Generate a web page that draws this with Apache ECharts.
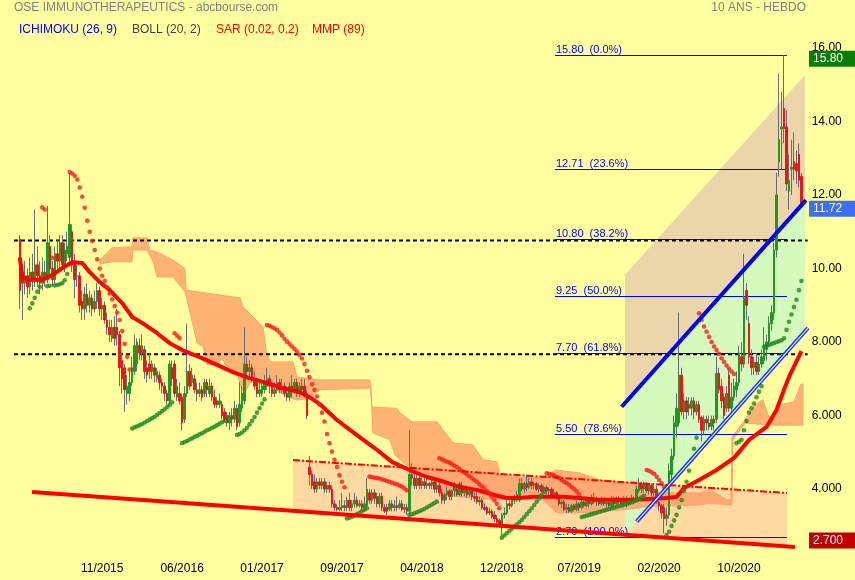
<!DOCTYPE html>
<html><head><meta charset="utf-8">
<script src="https://cdn.jsdelivr.net/npm/echarts@6/dist/echarts.min.js"></script>
<style>html,body{margin:0;padding:0;background:#FFFFA0;}#c{width:855px;height:580px;}</style>
</head><body><div id="c"></div>
<script>
// ---------- DATA ----------
const firstWeek = '2015-03-16';
const extraSlots = 2;
// weekly candles: [open, close, low, high]
const candles = [
[10.8,9.4,8.9,10.9],[9.9,9.6,8.6,10.1],[9.6,9.8,9.3,10.2],[9.8,9.5,9.2,10.0],[9.5,9.9,9.3,10.3],
[9.9,9.7,9.4,10.4],[9.7,10.1,9.5,11.6],[10.1,9.8,9.5,10.6],[9.8,9.6,9.3,10.2],[9.6,9.9,9.4,10.3],
[9.9,9.7,9.5,10.2],[9.7,10.7,9.6,11.7],[10.6,10.0,9.8,10.9],[10.0,9.7,9.5,10.2],[9.7,10.4,9.6,10.6],
[10.4,10.2,9.9,10.8],[10.2,10.7,10.0,10.9],[10.7,10.1,10.0,10.9],[10.1,10.5,9.9,10.7],[10.4,10.6,10.2,11.0],
[10.3,11.2,10.1,12.6],[11.0,10.1,9.9,11.2],[10.2,9.7,9.2,10.4],[9.8,9.8,9.5,10.1],[9.8,9.0,8.8,9.9],
[9.1,8.9,8.6,9.4],[8.9,9.3,8.6,9.5],[9.3,9.0,8.8,9.6],[9.0,9.2,8.8,9.4],[9.2,8.9,8.7,9.3],
[8.9,9.1,8.8,9.4],[9.1,9.4,8.9,9.6],[9.4,8.9,8.7,9.5],[8.9,9.0,8.6,9.2],[9.0,8.6,8.5,9.1],
[8.6,8.4,8.2,8.8],[8.4,8.2,8.0,8.6],[8.1,8.4,8.0,8.6],[8.4,8.1,7.9,8.7],[8.4,8.2,7.9,8.9],
[8.2,7.3,6.8,8.3],[7.5,7.0,6.6,7.7],[7.3,6.7,6.1,7.4],[6.6,6.8,6.3,7.1],[6.6,6.9,6.4,7.2],
[6.9,7.3,6.8,7.6],[7.2,7.9,7.1,8.2],[7.4,8.0,7.2,8.1],[7.9,7.7,7.5,8.1],[7.7,7.9,7.5,8.2],
[7.8,7.2,7.0,7.9],[7.3,7.1,6.9,7.5],[7.4,7.2,7.0,7.7],[7.2,7.4,7.0,7.5],[7.3,7.1,6.9,7.4],
[7.0,7.2,6.9,7.3],[7.1,6.9,6.7,7.2],[6.9,6.8,6.6,7.0],[6.8,6.6,6.4,6.9],[6.6,6.4,6.3,6.7],
[6.4,7.4,6.3,7.5],[7.3,7.0,6.8,7.5],[7.4,6.6,6.5,7.5],[6.5,6.8,6.4,7.0],[6.6,6.4,6.3,6.9],
[6.5,5.8,5.6,6.6],[5.9,6.6,5.8,6.8],[6.6,7.2,6.5,8.5],[7.2,6.8,6.7,7.4],[6.9,7.1,6.8,7.3],
[7.0,6.7,6.6,7.1],[6.7,6.6,6.4,6.9],[6.6,6.7,6.5,6.9],[6.7,6.5,6.4,6.8],[6.6,6.9,6.5,7.0],
[6.9,6.7,6.5,7.0],[6.6,6.8,6.5,7.0],[6.8,6.5,6.4,6.9],[6.5,6.3,6.2,6.7],[6.4,6.3,6.2,6.5],
[6.3,6.4,6.2,6.6],[6.3,6.0,5.9,6.4],[6.1,5.9,5.8,6.2],[6.0,5.8,5.7,6.1],[5.8,6.0,5.6,6.1],
[6.0,5.9,5.7,6.2],[5.9,6.2,5.8,6.4],[6.2,5.7,5.6,6.3],[5.8,6.3,5.7,6.9],[6.2,6.6,6.1,6.8],
[6.4,7.4,6.3,8.4],[7.4,7.2,7.0,7.6],[7.2,7.3,7.0,7.5],[7.3,7.0,6.9,7.4],[7.0,6.8,6.7,7.2],
[6.9,6.6,6.5,7.0],[6.6,6.7,6.5,6.9],[6.6,6.8,6.5,6.9],[6.7,6.9,6.6,7.1],[6.8,7.0,6.7,7.3],
[7.0,6.8,6.6,7.1],[6.8,6.6,6.5,6.9],[6.6,6.7,6.5,6.9],[6.7,6.9,6.6,7.1],[6.9,6.7,6.6,7.0],
[6.7,6.8,6.6,7.0],[6.8,6.6,6.5,6.9],[6.6,6.5,6.4,6.8],[6.5,6.8,6.4,6.9],[6.8,6.7,6.5,7.1],
[6.7,6.9,6.6,7.0],[6.9,6.6,6.5,7.0],[6.6,6.8,6.5,6.9],[6.8,6.7,6.6,7.0],[6.8,6.6,6.5,7.0],
[6.6,6.0,5.9,6.7],[4.6,4.4,4.1,4.9],[4.4,4.1,4.0,4.5],[4.2,4.0,3.9,4.4],[4.0,4.2,3.9,4.3],
[4.2,4.1,4.0,4.3],[4.1,4.2,4.0,4.3],[4.2,4.0,3.9,4.3],[4.0,4.1,3.9,4.2],[4.1,4.0,3.9,4.2],
[4.0,3.6,3.5,4.1],[3.6,3.5,3.4,3.7],[3.5,3.45,3.4,3.6],[3.45,3.5,3.4,3.7],[3.5,3.55,3.4,3.9],
[3.55,3.5,3.4,3.7],[3.5,3.7,3.4,3.8],[3.7,3.5,3.4,3.9],[3.5,3.6,3.4,3.7],[3.6,3.7,3.5,3.9],
[3.7,3.55,3.5,3.8],[3.55,3.6,3.5,3.7],[3.6,3.5,3.4,3.7],[3.5,3.6,3.4,3.8],[3.55,4.0,3.5,4.3],
[3.9,3.7,3.6,4.0],[3.7,3.9,3.6,4.0],[3.9,3.75,3.6,4.0],[3.8,3.6,3.5,3.9],[3.6,3.8,3.5,3.9],
[3.8,3.5,3.4,3.9],[3.5,3.4,3.35,3.6],[3.5,3.4,3.3,3.6],[3.45,3.6,3.4,3.7],[3.6,3.5,3.4,3.7],
[3.5,3.55,3.4,3.7],[3.55,3.5,3.4,3.8],[3.5,3.6,3.45,3.7],[3.6,3.45,3.4,3.7],[3.45,3.5,3.35,3.6],
[3.5,3.4,3.3,3.6],[3.4,4.4,3.35,5.6],[4.4,4.3,4.1,4.7],[4.3,4.1,4.0,4.5],[4.1,4.3,4.0,4.4],
[4.3,4.1,4.0,4.4],[4.1,4.2,4.0,4.3],[4.2,4.1,4.0,4.3],[4.1,4.15,4.0,4.3],[4.15,4.1,4.0,4.2],
[4.1,4.2,4.0,4.3],[4.2,4.0,3.9,4.3],[4.0,4.1,3.9,4.2],[4.1,3.9,3.8,4.2],[3.9,3.7,3.6,4.0],
[3.7,3.85,3.6,3.9],[3.85,3.95,3.7,4.1],[3.95,3.8,3.7,4.0],[3.8,3.95,3.7,4.0],[3.95,4.05,3.8,4.2],
[4.0,3.85,3.8,4.1],[3.85,4.15,3.8,4.2],[4.1,3.9,3.8,4.2],[3.9,4.0,3.8,4.1],[4.0,3.85,3.75,4.1],
[3.85,3.95,3.8,4.0],[3.95,3.8,3.7,4.0],[3.8,3.75,3.65,3.9],[3.8,3.65,3.6,3.95],[3.65,3.7,3.55,3.8],
[3.7,3.5,3.45,3.75],[3.5,3.45,3.4,3.6],[3.5,3.35,3.3,3.55],[3.35,3.4,3.3,3.5],[3.4,3.25,3.2,3.45],
[3.3,3.2,3.1,3.4],[3.2,3.1,3.05,3.3],[3.15,3.05,2.95,3.2],[3.05,3.3,2.72,3.35],[3.3,3.35,3.2,3.5],
[3.35,3.6,3.3,3.7],[3.6,3.55,3.45,3.7],[3.55,3.75,3.5,3.8],[3.75,3.7,3.6,3.85],[3.7,3.85,3.65,3.95],
[3.7,4.15,3.65,4.3],[4.15,4.0,3.95,4.3],[4.0,4.15,3.9,4.2],[4.15,4.05,3.95,4.4],[4.05,4.2,4.0,4.3],
[4.2,4.1,4.0,4.3],[4.1,4.15,4.0,4.2],[4.15,4.0,3.95,4.2],[4.0,4.1,3.9,4.15],[4.1,3.95,3.9,4.15],
[3.95,4.05,3.9,4.1],[4.05,3.95,3.85,4.1],[3.95,4.0,3.85,4.05],[4.0,3.85,3.8,4.05],[3.85,3.9,3.75,4.0],
[3.9,3.8,3.7,3.95],[3.8,3.6,3.55,3.85],[3.6,3.65,3.5,3.7],[3.65,3.45,3.4,3.7],[3.45,3.5,3.35,3.6],
[3.5,3.4,3.35,3.6],[3.4,3.55,3.35,3.6],[3.55,3.45,3.4,3.6],[3.45,3.6,3.4,3.7],[3.6,3.5,3.4,3.65],
[3.5,3.65,3.45,3.75],[3.65,3.55,3.5,3.7],[3.55,3.7,3.5,3.8],[3.7,3.6,3.5,3.75],[3.6,3.75,3.55,3.85],
[3.75,3.65,3.6,3.9],[3.65,3.7,3.55,3.8],[3.7,3.6,3.55,3.75],[3.6,3.7,3.55,3.8],[3.7,3.6,3.55,3.75],
[3.6,3.65,3.5,3.75],[3.65,3.55,3.5,3.7],[3.55,3.7,3.5,3.8],[3.7,3.6,3.5,3.8],[3.6,3.75,3.55,3.8],
[3.75,3.65,3.55,3.8],[3.65,3.6,3.5,3.75],[3.6,3.7,3.5,3.8],[3.7,3.6,3.5,3.8],[3.6,3.65,3.55,3.75],
[3.65,3.75,3.6,3.85],[3.75,3.7,3.6,3.8],[3.7,4.0,3.65,4.1],[3.95,4.15,3.9,4.3],[4.15,4.0,3.9,4.2],
[4.0,4.15,3.9,4.2],[4.15,3.95,3.9,4.2],[3.95,4.1,3.85,4.15],[4.1,3.9,3.8,4.15],[3.9,4.0,3.8,4.1],
[4.0,3.65,3.6,4.1],[3.65,3.55,3.4,3.7],[3.55,3.35,3.2,3.6],[3.5,3.2,2.8,3.6],[3.2,3.3,3.0,3.5],
[3.3,4.5,3.2,4.7],[4.4,4.9,4.2,5.1],[4.9,5.8,4.8,6.0],[5.7,6.2,5.4,6.6],[5.8,7.1,5.7,8.8],
[7.1,6.1,6.0,7.3],[6.1,6.4,5.9,6.6],[6.4,6.1,5.9,6.5],[6.3,6.2,6.0,6.5],[6.2,6.4,6.0,6.5],
[6.4,6.1,5.9,6.5],[6.1,6.3,6.0,6.4],[6.3,5.9,5.8,6.4],[5.95,5.6,5.3,6.0],[5.6,5.9,5.5,6.0],
[5.9,5.8,5.6,6.0],[5.8,5.7,5.6,6.0],[5.7,5.9,5.6,6.0],[5.9,5.8,5.6,6.0],[5.9,7.15,5.8,7.6],
[7.15,6.7,6.6,7.3],[6.8,6.4,6.2,7.0],[6.5,6.0,5.9,6.6],[6.2,6.6,6.1,6.8],[7.1,6.2,6.1,7.3],
[6.2,6.5,6.1,6.9],[6.5,6.8,6.4,7.0],[6.7,6.9,6.5,7.2],[6.9,7.7,6.8,7.9],[7.6,7.4,7.2,8.0],
[7.4,9.2,7.3,10.4],[9.4,9.0,8.6,9.6],[8.5,7.6,7.4,8.7],[7.6,7.3,7.1,7.8],[7.3,7.45,7.1,7.6],
[7.45,7.2,7.1,7.7],[7.2,7.4,7.1,7.6],[7.4,7.6,7.3,7.8],[7.5,7.9,7.4,8.4],[7.8,8.0,7.5,8.2],
[8.0,8.5,7.9,8.7],[8.5,8.8,8.3,9.0],[8.8,10.5,8.6,10.7],[10.5,12.0,10.3,12.6],[12.9,13.5,12.5,15.3],
[13.8,13.85,12.7,14.8],[14.35,13.8,13.4,15.8],[13.85,12.3,12.1,14.3],[12.1,12.4,11.6,13.1],[12.7,12.75,12.0,13.5],
[12.9,12.7,12.4,13.7],[12.85,12.65,12.3,13.2],[13.1,12.4,12.2,13.4],[12.5,11.72,11.7,12.6]
];
// MMP(89): [week index, value]
const mmpPoints = [[0,10.3],[1,9.77],[4,9.69],[9,9.69],[13,9.82],[17,10.01],[21,10.17],[25,10.15],[28,9.9],[32,9.63],[36,9.41],[41,9.06],[45,8.68],[49,8.52],[55,8.24],[60,7.97],[65,7.78],[72,7.59],[79,7.38],[85,7.19],[92,7.02],[99,6.89],[105,6.75],[112,6.64],[116,6.5],[120,6.32],[127,5.88],[135,5.47],[143,5.07],[149,4.74],[156,4.52],[163,4.33],[170,4.2],[176,4.06],[183,3.98],[190,3.84],[195,3.76],[200,3.76],[206,3.79],[211,3.79],[218,3.79],[224,3.76],[232,3.71],[246,3.71],[259,3.76],[263,3.79],[266,4.03],[272,4.25],[279,4.52],[286,4.85],[292,5.34],[299,5.69],[303,6.15],[306,6.7],[308,7.05],[313,7.75]];
// SAR segments: [first week index, values...]
const sarUpSegments = [
[4,[8.92,9.05,9.2,9.37,9.5]],
[11,[9.52,9.53]],
[14,[9.54,9.55,9.57,9.6,9.68,9.85]],
[45,[5.65,5.68,5.71,5.74,5.77,5.81,5.85,5.89,5.93,5.97,6.02,6.07,6.12,6.17,6.23,6.29,6.36]],
[65,[5.25,5.28,5.31,5.35,5.38,5.42,5.45,5.49,5.52,5.56,5.6,5.63,5.67,5.7,5.74,5.78,5.82,5.86]],
[87,[5.47,5.5,5.54,5.6,5.67,5.76,5.86,5.96,6.08,6.2,6.33,6.44]],
[131,[3.2,3.22,3.25,3.28,3.32,3.36,3.4,3.44,3.48]],
[156,[3.3,3.32,3.34,3.37,3.4,3.43,3.46,3.5,3.54,3.58,3.62,3.66]],
[193,[2.68,2.74,2.8,2.86,2.92,2.98,3.04,3.1,3.16,3.24,3.32,3.4,3.48,3.57,3.66,3.75,3.84,3.93]],
[225,[3.24,3.26,3.28,3.3,3.32,3.34,3.36,3.38,3.4,3.42,3.44,3.46,3.48,3.5,3.52,3.54,3.56,3.58,3.6,3.62,3.64,3.67,3.7,3.74,3.78,3.82]],
[259,[2.75,2.84,3.0,3.15,3.3,3.5,3.7,3.95,4.2,4.5,4.8,5.1,5.4]],
[287,[5.25,5.29,5.34,5.6,5.85,6.08,6.2,6.33,6.5,6.65,6.8]],
[298,[7.87,7.9,7.92,7.95,7.97,8.0,8.02,8.05,8.1,8.33,8.55,8.75,8.95,9.15,9.41,9.66]]
];
const sarDownSegments = [
[9,[11.66,11.6]],
[13,[10.29]],
[20,[12.62,12.58,12.52,12.42,12.2,11.95,11.65,11.3,11.0,10.75,10.5,10.25,10.0,9.8,9.66,9.48,9.32,9.16,8.98,8.8,8.6,8.3,7.95,7.6,7.25]],
[62,[8.24,8.17,8.1]],
[99,[8.46,8.44,8.41,8.37,8.33,8.26,8.18,8.09,8.01,7.95,7.88,7.81,7.74,7.65,7.55,7.4,7.22,7.05,6.85,6.7,6.52,6.3,6.08,5.84,5.5,5.25,5.02,4.8,4.6,4.38,4.2,4.05]],
[140,[4.34,4.33,4.31,4.3,4.29,4.27,4.25,4.22,4.2,4.18,4.15,4.13,4.1,4.07,4.02,3.97]],
[168,[4.84,4.81,4.78,4.75,4.72,4.68,4.64,4.6,4.55,4.5,4.45,4.4,4.35,4.3,4.25,4.2,4.14,4.08,4.02,3.95,3.88,3.8,3.7,3.6,3.48]],
[211,[4.43,4.42,4.4,4.37,4.33,4.3,4.25,4.2,4.16,4.12,4.06,4.0,3.94,3.86]],
[251,[4.52,4.5,4.46,4.42,4.34,4.25,4.16,4.05]],
[272,[8.78,8.6,8.42,8.28,8.14,8.0,7.88,7.78,7.68,7.56,7.46,7.36,7.28,7.2,7.13]]
];
// Ichimoku cloud outline: upper edge (left to right), lower edge (right to left)
const cloudUpper = [[32.1,10.23],[36.9,10.56],[44.9,10.59],[45.3,10.83],[50.9,10.83],[52.1,10.5],[55,10.45],[61.3,10.23],[66.1,10.0],[66.6,9.41],[88.2,9.2],[89.4,8.95],[97.4,8.41],[98.6,7.78],[100.2,7.46],[109.4,7.46],[111,7.05],[120.2,6.97],[140.2,6.97],[141,6.23],[151,6.2],[152.2,6.07],[157.1,5.83],[167.1,5.83],[169.5,5.61],[173.5,5.26],[181.5,5.2],[185.5,4.8],[191.1,4.74],[192.3,4.39],[200.3,4.31],[208.3,4.31],[214.7,4.52],[224.3,4.44],[232.3,4.25],[248.3,4.14],[249.5,3.9],[272.4,3.9],[276.4,3.98],[283.2,3.71],[284.8,3.71],[285.2,5.42],[290.4,5.88],[294.4,6.29],[297.5,6.43],[299.6,6.02],[301.6,5.86],[304.4,6.29],[310,6.37],[312.8,6.86],[313.6,6.86]];
const cloudLower = [[313.6,5.74],[301.6,5.74],[290.4,5.8],[285.6,5.34],[285.2,3.57],[283.2,3.57],[276.4,3.62],[272.4,3.57],[249.5,3.52],[248.3,3.49],[232.3,3.38],[216.3,3.35],[214.7,3.38],[208.3,3.79],[192.3,3.71],[181.5,3.76],[168.3,3.84],[167.1,4.25],[160.3,4.39],[156.2,4.58],[150.2,4.93],[148.2,5.34],[141.4,5.53],[140.6,6.75],[120.2,6.7],[116.2,6.48],[111,6.42],[107,6.51],[101,6.78],[99,7.02],[93.4,7.02],[90.2,6.64],[89,6.7],[87,7.16],[82.2,7.38],[81,7.59],[79.4,7.38],[75,7.38],[73.4,7.87],[71,7.97],[67,9.14],[66.2,9.36],[61.3,9.77],[55,9.77],[53.4,10.18],[50.9,10.5],[45.3,10.5],[44.9,10.18],[36.9,10.18],[32.1,10.12]];
// Fibonacci retracement
const fibLevels = [15.80,12.71,10.80,9.25,7.70,5.50,2.70];
const fibPercents = ['0.0%','23.6%','38.2%','50.0%','61.8%','78.6%','100.0%'];
const fibSpan = [214.3,307.2];
// horizontal dashed lines
const dashedLevels = [10.76,7.67];
const dashedSpan = [-2.3,315.5];
// drawn trend lines: [[index, value],[index, value]]
const supportLine = [[4.9,3.92],[310.4,2.43]];
const resistanceLine = [[109.4,4.79],[307.2,3.895]];
const channelUpper = [[241.0,6.24],[314.8,11.86]];
const channelLower = [[247.0,3.115],[315.6,8.38]];
const channelTop = [[242.3,9.83],[314.4,15.26]];
const channelStart = 242.3, channelEnd = 314.4;
// right-side value tags
const tagValues = [15.80,11.72,2.70];
const tagTexts = ['15.80','11.72','2.700'];
// x axis ticks
const xTickIndex = [33,65,97,129,161,193,224,256,288];
const xTickLabels = ['11/2015','06/2016','01/2017','09/2017','04/2018','12/2018','07/2019','02/2020','10/2020'];

// ---------- BUILD ----------
const FONT = '"Liberation Sans", Arial, sans-serif';
const nCat = candles.length + extraSlots;
const categories = [];
{ const d0 = new Date(firstWeek + 'T00:00:00Z');
  for (let k = 0; k < nCat; k++) { const d = new Date(d0.getTime() + k*7*86400000); categories.push(d.toISOString().slice(0,10)); } }
const bodies = candles.map(c => [c[0], c[1], Math.min(c[0],c[1]), Math.max(c[0],c[1])]);
function flatten(segs){ const out=[]; segs.forEach(([s,vals])=>vals.forEach((v,k)=>out.push([s+k,v]))); return out; }
function lineAt(l, x){ const [[x0,y0],[x1,y1]] = l; return y0 + (y1-y0)*(x-x0)/(x1-x0); }

const chart = echarts.init(document.getElementById('c'), null, {renderer:'canvas'});
const GREEN='#1E9A1E', RED='#E8161E', WICK='#6A6A7C';

function poly(api, pts, style){ return {type:'polygon', shape:{points: pts.map(p=>api.coord(p))}, style}; }

const option = {
  animation:false,
  backgroundColor:'#FFFFA0',
  grid:{left:18.55, right:47.3, top:11, bottom:17.3},
  xAxis:[
    {type:'category', data:categories, boundaryGap:true,
     axisLine:{show:false}, axisTick:{show:false}, splitLine:{show:false},
     axisLabel:{interval:(idx)=>xTickIndex.indexOf(idx)>=0, formatter:(v,idx)=>{const k=xTickIndex.indexOf(idx); return k>=0?xTickLabels[k]:'';},
       color:'#000', fontSize:12, fontFamily:FONT, margin:0, hideOverlap:false}},
    {type:'value', min:-0.5, max:nCat-0.5, show:false}
  ],
  yAxis:{type:'value', position:'right', min:2, max:17, interval:2, scale:false,
    axisLine:{show:false}, axisTick:{show:false}, splitLine:{show:false},
    axisLabel:{margin:4, color:'#000', fontSize:12, fontFamily:FONT,
      formatter:(v)=> (v>=4 && v<=16 && Math.abs(v%2)<1e-9) ? (v>=10? v.toFixed(2): v.toFixed(3)) : ''}},
  graphic:[
    {type:'text', left:14, top:2, style:{text:'OSE IMMUNOTHERAPEUTICS - abcbourse.com', fill:'#808080', font:'12px '+FONT}},
    {type:'text', right:49, top:2, style:{text:'10 ANS - HEBDO', fill:'#808080', font:'12px '+FONT}},
    {type:'text', left:19, top:24, style:{text:'ICHIMOKU (26, 9)', fill:'#0000FF', font:'12px '+FONT}},
    {type:'text', left:132, top:24, style:{text:'BOLL (20, 2)', fill:'#404040', font:'12px '+FONT}},
    {type:'text', left:216, top:24, style:{text:'SAR (0.02, 0.2)', fill:'#FF0000', font:'12px '+FONT}},
    {type:'text', left:312, top:24, style:{text:'MMP (89)', fill:'#FF0000', font:'12px '+FONT}}
  ],
  series:[
    {type:'custom', xAxisIndex:1, yAxisIndex:0, z:1, silent:true, clip:false, data:[[0,0]],
     renderItem:(params, api)=>{
       const r0=resistanceLine[0][0], r1=resistanceLine[1][0];
       const trap=[[r0,lineAt(resistanceLine,r0)],[r1,lineAt(resistanceLine,r1)],[r1,lineAt(supportLine,r1)],[r0,lineAt(supportLine,r0)]];
       const tan=[[channelStart,lineAt(channelTop,channelStart)],[channelEnd,lineAt(channelTop,channelEnd)],[channelEnd,lineAt(channelUpper,channelEnd)],[channelStart,lineAt(channelUpper,channelStart)]];
       const grn=[[channelStart,lineAt(channelUpper,channelStart)],[channelEnd,lineAt(channelUpper,channelEnd)],[channelEnd,lineAt(channelLower,channelEnd)],[channelStart,lineAt(channelLower,channelStart)]];
       return {type:'group', children:[
         poly(api, trap, {fill:'#FFD9A0'}),
         poly(api, tan, {fill:'#EAD6A8'}),
         poly(api, grn, {fill:'rgba(208,250,190,0.9)'})
       ]};
     }},
    {type:'custom', xAxisIndex:1, yAxisIndex:0, z:2, silent:true, clip:false, data:[[0,0]],
     renderItem:(params, api)=> poly(api, cloudUpper.concat(cloudLower), {fill:'rgba(255,150,95,0.72)', stroke:'#FFA26E', lineWidth:1})},
    {type:'custom', xAxisIndex:1, yAxisIndex:0, z:3, silent:true, clip:false, data:fibLevels.map(v=>[0,v]),
     renderItem:(params, api)=>{
       const v=api.value(1); const a=api.coord([fibSpan[0],v]); const b=api.coord([fibSpan[1],v]);
       const y=Math.round(a[1])+0.5;
       return {type:'group', children:[
         {type:'line', shape:{x1:a[0],y1:y,x2:b[0],y2:y}, style:{stroke:'#0000FF', lineWidth:1}},
         {type:'text', style:{text:v.toFixed(2)+'  ('+fibPercents[params.dataIndex]+')', x:a[0]+1, y:y, fill:'#0000FF', font:'11px '+FONT, textAlign:'left', textVerticalAlign:'bottom', align:'left', verticalAlign:'bottom'}}
       ]};
     }},
    {type:'custom', xAxisIndex:1, yAxisIndex:0, z:3, silent:true, clip:false, data:dashedLevels.map(v=>[0,v]),
     renderItem:(params, api)=>{
       const v=api.value(1); const a=api.coord([dashedSpan[0],v]); const b=api.coord([dashedSpan[1],v]);
       return {type:'line', shape:{x1:a[0],y1:a[1],x2:b[0],y2:b[1]}, style:{stroke:'#000', lineWidth:2, lineDash:[4,3]}};
     }},
    {type:'candlestick', xAxisIndex:0, yAxisIndex:0, z:4, data:candles, barWidth:1, silent:true,
     itemStyle:{color:WICK, color0:WICK, borderColor:WICK, borderColor0:WICK, borderWidth:1}},
    {type:'candlestick', xAxisIndex:0, yAxisIndex:0, z:5, data:bodies, barWidth:2, silent:true,
     itemStyle:{color:GREEN, color0:RED, borderColor:GREEN, borderColor0:RED, borderWidth:1}},
    {type:'line', xAxisIndex:1, yAxisIndex:0, z:6, data:mmpPoints, showSymbol:false, silent:true,
     lineStyle:{color:'#FF0000', width:4}},
    {type:'scatter', xAxisIndex:1, yAxisIndex:0, z:7, data:flatten(sarUpSegments), symbolSize:4.6, silent:true,
     itemStyle:{color:'#1E8A1E'}},
    {type:'scatter', xAxisIndex:1, yAxisIndex:0, z:7, data:flatten(sarDownSegments), symbolSize:4.6, silent:true,
     itemStyle:{color:'#FF1A1A'}},
    {type:'line', xAxisIndex:1, yAxisIndex:0, z:8, data:resistanceLine, showSymbol:false, silent:true, clip:false,
     lineStyle:{color:'#FF0000', width:2, type:[7,2,2,2]}},
    {type:'line', xAxisIndex:1, yAxisIndex:0, z:8, data:supportLine, showSymbol:false, silent:true, clip:false,
     lineStyle:{color:'#FF0000', width:4}},
    {type:'line', xAxisIndex:1, yAxisIndex:0, z:8, data:channelUpper, showSymbol:false, silent:true, clip:false,
     lineStyle:{color:'#0000FF', width:4}},
    {type:'line', xAxisIndex:1, yAxisIndex:0, z:8, data:channelLower, showSymbol:false, silent:true, clip:false,
     lineStyle:{color:'#1030FF', width:4}},
    {type:'line', xAxisIndex:1, yAxisIndex:0, z:9, data:channelLower, showSymbol:false, silent:true, clip:false,
     lineStyle:{color:'#E8F0FF', width:1.2}},
    {type:'custom', xAxisIndex:1, yAxisIndex:0, z:10, silent:true, clip:false, data:tagValues.map(v=>[0,v]),
     renderItem:(params, api)=>{
       const cs=params.coordSys; const y=api.coord([0,api.value(1)])[1]+3.5;
       const x=cs.x+cs.width+1.3; const cols=['#0A7D0A','#3F6EF2','#C00000'];
       return {type:'group', children:[
         {type:'rect', shape:{x:x, y:y-8, width:855-x, height:16}, style:{fill:cols[params.dataIndex]}},
         {type:'text', style:{text:tagTexts[params.dataIndex], x:x+4, y:y, fill:'#fff', font:'12px '+FONT, textAlign:'left', textVerticalAlign:'middle', align:'left', verticalAlign:'middle'}}
       ]};
     }}
  ]
};
chart.setOption(option);
</script></body></html>
